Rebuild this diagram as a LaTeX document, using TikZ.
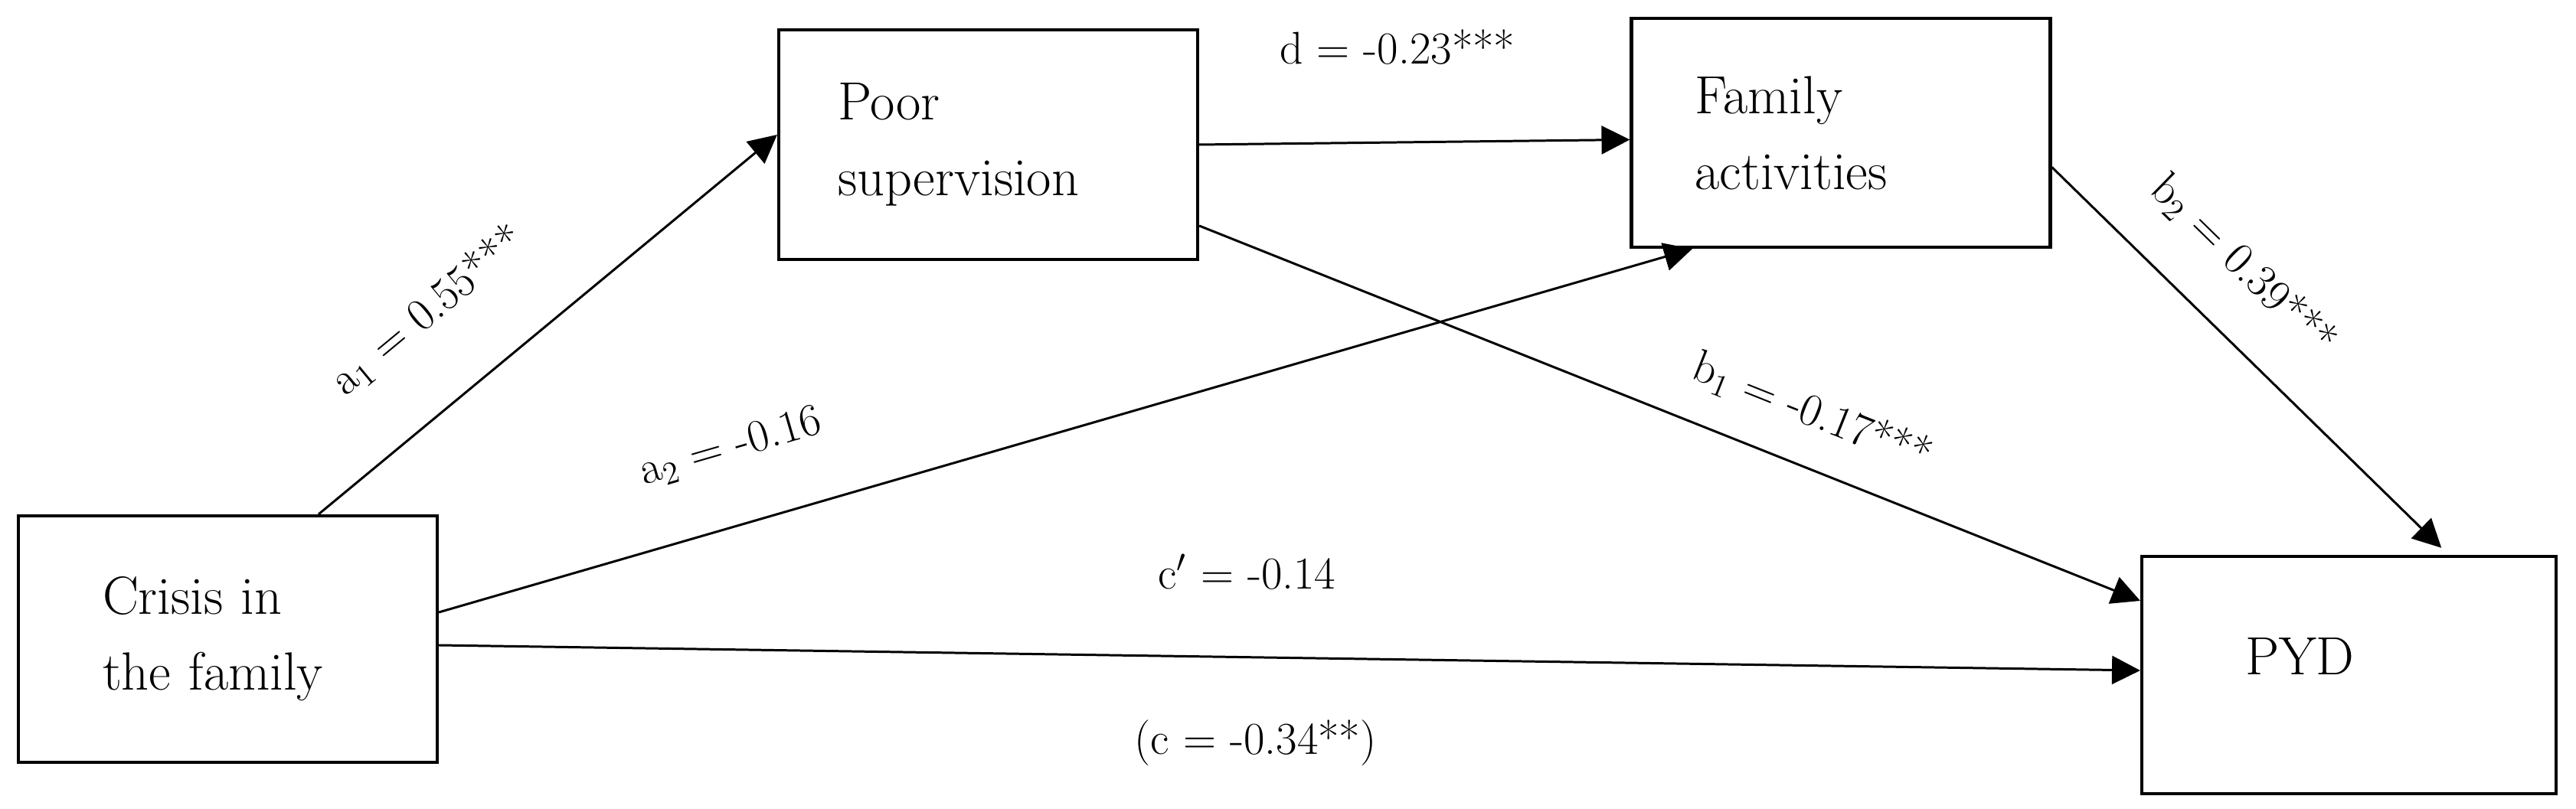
\documentclass[tikz,border=0pt]{standalone}
\usepackage{tikz}
\usetikzlibrary{arrows.meta}

\begin{document}
\begin{tikzpicture}[>={Triangle[length=10.5pt,width=10.5pt]},inner sep=0pt,
    every node/.style={font=\fontsize{20}{28.2}\selectfont}]
  % Styles
  \tikzset{var/.style={draw,line width=1.2pt,align=left,minimum width=5.47cm},
           effect/.style={->,line width=0.85pt,black},
           coef/.style={font=\fontsize{17}{20}\selectfont}}

  % Page (margins of the original figure)
  \useasboundingbox (0,0) rectangle (33.64,10.57);

  % Variables (text set to the left inside the boxes)
  \node[var,minimum height=3.22cm,text width=3.27cm] (crisis) at (2.975,2.22) {Crisis in\\the family};
  \node[var,minimum height=3.00cm,text width=3.93cm] (poor) at (12.905,8.68) {Poor\\supervision};
  \node[var,minimum height=2.99cm,text width=3.81cm] (family) at (24.04,8.835) {Family\\activities};
  \node[var,minimum width=5.41cm,minimum height=3.10cm,text width=2.71cm,text depth=0.48cm] (pyd) at (30.675,1.75) {PYD};

  % Paths a1, a2 (crisis to the mediators)
  \draw[effect] ([xshift=1.185cm]crisis.north) -- ([yshift=0.13cm]poor.west)
    node[coef,pos=0.36,sloped,above=0.85cm] (lba1) {a\textsubscript{1} = 0.55***};
  \draw[effect] ([yshift=0.35cm]crisis.east) -- ([xshift=-1.94cm]family.south)
    node[coef,pos=0.25,sloped,above=0.75cm] (lba2) {a\textsubscript{2} = -0.16};

  % Path d (between the mediators)
  \draw[effect] (poor.east) -- ([yshift=-0.09cm]family.west)
    node[coef,pos=0.46,above=1.0cm] (lbd) {d = -0.23***};

  % Paths b1, b2 (mediators to PYD)
  \draw[effect] ([yshift=-1.06cm]poor.east) -- ([yshift=0.97cm]pyd.west)
    node[coef,pos=0.63,sloped,above=0.42cm] (lbb1) {b\textsubscript{1} = -0.17***};
  \draw[effect,shorten >=0.13cm] ([yshift=-0.45cm]family.east) -- ([xshift=1.3cm]pyd.north)
    node[coef,pos=0.37,sloped,above=0.55cm] (lbb2) {b\textsubscript{2} = 0.39***};

  % Direct path c' with the total effect c below it
  \draw[effect] ([yshift=-0.08cm]crisis.east) -- ([yshift=0.06cm]pyd.west)
    node[coef,pos=0.475,above=0.87cm] (lbc1) {c$'$ = -0.14}
    node[coef,pos=0.48,below=0.8cm] (lbc) {(c = -0.34**)};
\end{tikzpicture}
\end{document}
